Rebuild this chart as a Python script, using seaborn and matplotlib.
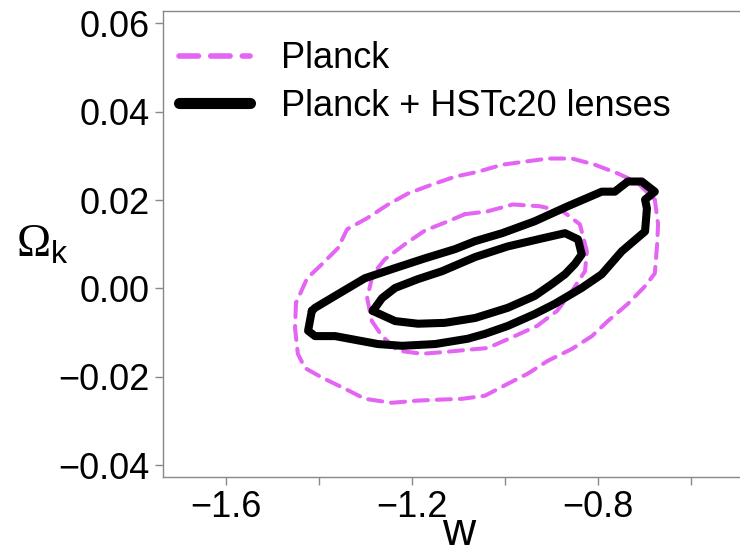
import matplotlib
matplotlib.use("Agg")
import matplotlib.pyplot as plt
import seaborn as sns
import pandas as pd

# Confidence contours in the (w, Omega_k) plane
planck_95_w = [-1.449, -1.451, -1.445, -1.430, -1.393, -1.344, -1.301, -1.243, -1.187, -1.144,
               -1.092, -1.043, -0.994, -0.951, -0.908, -0.856, -0.813, -0.779, -0.736, -0.699,
               -0.678, -0.673, -0.671, -0.678, -0.716, -0.757, -0.807, -0.856, -0.908, -0.957,
               -1.006, -1.058, -1.107, -1.157, -1.208, -1.251, -1.296, -1.339, -1.359, -1.393,
               -1.425, -1.449]
planck_95_ok = [-0.0033, -0.0090, -0.0148, -0.0180, -0.0202, -0.0227, -0.0250, -0.0259, -0.0254, -0.0252,
                -0.0250, -0.0243, -0.0216, -0.0193, -0.0164, -0.0137, -0.0108, -0.0074, -0.0035, 0.0005,
                0.0034, 0.0100, 0.0145, 0.0201, 0.0240, 0.0260, 0.0280, 0.0294, 0.0294, 0.0287,
                0.0280, 0.0264, 0.0253, 0.0235, 0.0215, 0.0190, 0.0159, 0.0134, 0.0091, 0.0055,
                0.0023, -0.0033]

planck_68_w = [-1.086, -1.039, -0.983, -0.925, -0.875, -0.839, -0.824, -0.828, -0.856, -0.888,
               -0.931, -0.979, -1.037, -1.080, -1.129, -1.178, -1.230, -1.264, -1.286, -1.296,
               -1.284, -1.258, -1.215, -1.172, -1.122, -1.086]
planck_68_ok = [0.0168, 0.0174, 0.0190, 0.0186, 0.0174, 0.0145, 0.0084, 0.0039, -0.0006, -0.0051,
                -0.0085, -0.0108, -0.0135, -0.0139, -0.0144, -0.0148, -0.0141, -0.0108, -0.0074, -0.0022,
                0.0032, 0.0066, 0.0100, 0.0131, 0.0152, 0.0168]

lens_95_w = [-1.415, -1.423, -1.408, -1.365, -1.273, -1.221, -1.150, -1.080, -1.043, -0.994,
             -0.936, -0.893, -0.835, -0.792, -0.749, -0.699, -0.695, -0.699, -0.678, -0.706,
             -0.736, -0.764, -0.792, -0.865, -0.936, -1.006, -1.064, -1.107, -1.172, -1.236,
             -1.301, -1.365, -1.408, -1.415]
lens_95_ok = [-0.0051, -0.0096, -0.0108, -0.0108, -0.0126, -0.0130, -0.0126, -0.0114, -0.0103, -0.0085,
              -0.0058, -0.0035, 0.0001, 0.0032, 0.0084, 0.0129, 0.0181, 0.0201, 0.0219, 0.0242,
              0.0242, 0.0219, 0.0219, 0.0186, 0.0152, 0.0125, 0.0107, 0.0089, 0.0068, 0.0046,
              0.0023, -0.0017, -0.0044, -0.0051]

lens_68_w = [-1.284, -1.264, -1.236, -1.187, -1.135, -1.064, -0.994, -0.921, -0.871, -0.843,
             -0.835, -0.850, -0.871, -0.899, -0.936, -0.994, -1.064, -1.129, -1.187, -1.236,
             -1.284]
lens_68_ok = [-0.0051, -0.0022, 0.0001, 0.0021, 0.0039, 0.0071, 0.0095, 0.0113, 0.0125, 0.0111,
              0.0077, 0.0055, 0.0032, 0.0010, -0.0017, -0.0044, -0.0067, -0.0078, -0.0080, -0.0074,
              -0.0051]

x_ticks = [-1.6, -1.4, -1.2, -1.0, -0.8, -0.6]
x_tick_labels = ["\u22121.6", "", "\u22121.2", "", "\u22120.8", ""]
y_ticks = [-0.04, -0.02, 0.00, 0.02, 0.04, 0.06]
y_tick_labels = ["\u22120.04", "\u22120.02", "0.00", "0.02", "0.04", "0.06"]

series_labels = ["Planck", "Planck + HSTc20 lenses"]

sns.set_style("white")
plt.rcParams["font.family"] = ["Liberation Sans", "DejaVu Sans"]
plt.rcParams["text.color"] = "black"
plt.rcParams["axes.labelcolor"] = "black"
plt.rcParams["xtick.color"] = "black"
plt.rcParams["ytick.color"] = "black"
plt.rcParams["mathtext.fontset"] = "custom"
plt.rcParams["mathtext.rm"] = "Liberation Serif"
plt.rcParams["mathtext.sf"] = "Liberation Sans"

magenta = "#e464f4"
dash_pat = (0, (3.5, 2.2))

fig = plt.figure(figsize=(7.4, 5.56), dpi=100)
ax = fig.add_axes([163 / 740, 79 / 556, 577 / 740, 466 / 556])


def loop(w, ok, label=None, **kw):
    df = pd.DataFrame({"w": w, "ok": ok})
    sns.lineplot(data=df, x="w", y="ok", sort=False, estimator=None, ax=ax,
                 label=label, legend=False, **kw)


loop(planck_95_w, planck_95_ok, series_labels[0], color=magenta, lw=2.9,
     linestyle=dash_pat, dash_capstyle="round")
loop(planck_68_w, planck_68_ok, color=magenta, lw=2.9,
     linestyle=dash_pat, dash_capstyle="round")
loop(lens_95_w, lens_95_ok, series_labels[1], color="black", lw=5.8,
     solid_joinstyle="round", solid_capstyle="round")
loop(lens_68_w, lens_68_ok, color="black", lw=5.8,
     solid_joinstyle="round", solid_capstyle="round")

ax.set_xlim(-1.7347, -0.495)
ax.set_ylim(-0.0427, 0.0628)
ax.set_xticks(x_ticks)
ax.set_xticklabels(x_tick_labels)
ax.set_yticks(y_ticks)
ax.set_yticklabels(y_tick_labels)

ax.tick_params(axis="both", which="major", direction="out", length=5.5, width=1,
               color="#888888", labelcolor="black", labelsize=26, pad=4,
               left=True, bottom=True)
for side in ["left", "bottom", "top"]:
    ax.spines[side].set_color("#888888")
    ax.spines[side].set_linewidth(1.0)
ax.spines["right"].set_visible(False)

ax.set_xlabel("w", fontsize=33)
ax.xaxis.set_label_coords(0.512, -0.1674)
ax.xaxis.label.set_va("bottom")
ax.set_ylabel(r"$\Omega_{\mathsf{k}}$", fontsize=33, rotation=0)
ax.yaxis.set_label_coords(-0.21, 0.5)
ax.yaxis.label.set_va("center")
ax.yaxis.label.set_ha("center")

leg = ax.legend(loc="upper left", frameon=False, fontsize=26, handlelength=1.95,
                handletextpad=0.86, labelspacing=0.35, borderaxespad=0.0,
                borderpad=0.4, bbox_to_anchor=(0.003, 0.966))
handles = leg.legend_handles
handles[0].set_linewidth(4.0)
handles[1].set_linewidth(8.0)
handles[1].set_solid_capstyle("round")

fig.savefig("out.png", dpi=100)
